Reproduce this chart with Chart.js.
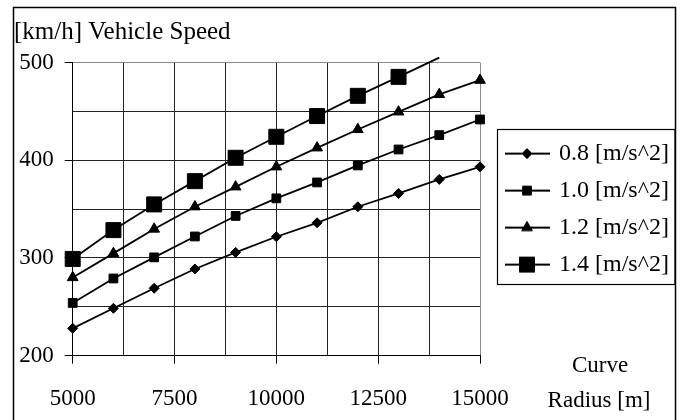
<!DOCTYPE html>
<html>
<head>
<meta charset="utf-8">
<script src="https://cdn.jsdelivr.net/npm/chart.js@4.4.0/dist/chart.umd.min.js"></script>
<style>
html,body{margin:0;padding:0;background:#fff;}
#wrap{width:687px;height:420px;position:relative;}
</style>
</head>
<body>
<div id="wrap"><canvas id="c" width="687" height="420"></canvas></div>
<script>
// ---- data ----
const radii   = [5000, 6000, 7000, 8000, 9000, 10000, 11000, 12000, 13000, 14000, 15000];
const speed08 = [228, 248.5, 269, 288.7, 305.7, 321.7, 336, 352.4, 366, 380.4, 393.3];
const speed10 = [254, 279, 300.6, 322, 343, 361, 377.3, 394.7, 411, 425.7, 441.7];
const speed12 = [280, 304.7, 329.6, 352.4, 372.8, 393.3, 412.7, 431.5, 449.5, 467.3, 481.9];
const speed14 = [299, 328.5, 354.8, 378.6, 402.5, 424, 445.2, 465.9, 485.3, 505];
const seriesNames = ['0.8 [m/s^2]', '1.0 [m/s^2]', '1.2 [m/s^2]', '1.4 [m/s^2]'];
const yAxisTitle = '[km/h] Vehicle Speed';
const xAxisTitle = ['Curve', 'Radius [m]'];
const xMin = 5000, xMax = 15000, xStep = 1250, xLabelStep = 2500;
const yMin = 200, yMax = 500, yStep = 50, yLabelStep = 100;

// ---- styles ----
const FONT = 'Liberation Serif';
const markerStyles = ['rectRot', 'rect', 'triangle', 'rect'];
const markerRadii  = [5, 6.2, 6.2, 10.6];

function toPoints(vals) { return vals.map((v, i) => ({x: radii[i], y: v})); }
const allSeries = [speed08, speed10, speed12, speed14];

function makeIcon(style, r) {
  const cv = document.createElement('canvas');
  cv.width = 60; cv.height = 24;
  const c = cv.getContext('2d');
  c.strokeStyle = '#000'; c.fillStyle = '#000'; c.lineWidth = 2;
  c.beginPath(); c.moveTo(15, 12); c.lineTo(60, 12); c.stroke();
  c.lineWidth = 1;
  Chart.helpers.drawPoint(c, {pointStyle: style, radius: r, rotation: 0, borderWidth: 1}, 37, 12);
  return cv;
}
const legendIcons = markerStyles.map((s, i) => makeIcon(s, markerRadii[i]));

const datasets = allSeries.map((vals, i) => ({
  label: seriesNames[i],
  data: toPoints(vals),
  borderColor: '#000',
  backgroundColor: '#000',
  borderWidth: 1.8,
  pointStyle: markerStyles[i],
  pointRadius: ctx => (ctx.raw && ctx.raw.y > yMax) ? 0 : markerRadii[i],
  pointBorderWidth: 1,
  pointBorderColor: '#000',
  pointBackgroundColor: '#000',
  tension: 0,
  clip: false,
  fill: false
}));

const decor = {
  id: 'decor',
  beforeDraw(chart) {
    const c = chart.ctx;
    c.save(); c.fillStyle = '#fff'; c.fillRect(0, 0, chart.width, chart.height); c.restore();
  },
  afterDraw(chart) {
    const c = chart.ctx, a = chart.chartArea, lg = chart.legend;
    c.save();
    c.strokeStyle = '#000';
    c.lineWidth = 1.5;
    c.strokeRect(13.5, 7.5, 662, 440);
    const hb = lg.legendHitBoxes;
    if (hb && hb.length) {
      const top = Math.round(hb[0].top - 13) + 0.5;
      const last = hb[hb.length - 1];
      const bottom = Math.round(last.top + last.height + 7) + 0.5;
      const left = Math.round(lg.left + 17) + 0.5;
      c.lineWidth = 1.2;
      c.strokeRect(left, top, 675 - left, bottom - top);
    }
    c.fillStyle = '#000';
    c.font = '23px "' + FONT + '"';
    c.textAlign = 'center';
    c.textBaseline = 'alphabetic';
    c.fillText(xAxisTitle[0], 600, a.bottom + 16);
    c.fillText(xAxisTitle[1], 599, a.bottom + 51);
    c.restore();
  }
};

Chart.defaults.font.family = FONT;
Chart.defaults.color = '#000';

new Chart(document.getElementById('c'), {
  type: 'line',
  data: {datasets},
  plugins: [decor],
  options: {
    responsive: false,
    animation: false,
    layout: {padding: {left: 14, top: 8, right: 17, bottom: 0}},
    plugins: {
      tooltip: {enabled: false},
      title: {
        display: true,
        text: yAxisTitle,
        align: 'start',
        color: '#000',
        font: {family: FONT, size: 25, weight: 'normal'},
        padding: {top: 9.5, bottom: 15}
      },
      legend: {
        display: true,
        position: 'right',
        fullSize: false,
        align: 'center',
        maxWidth: 190,
        labels: {
          usePointStyle: true,
          pointStyleWidth: 54,
          padding: 13,
          color: '#000',
          font: {family: FONT, size: 24},
          generateLabels(chart) {
            const items = Chart.defaults.plugins.legend.labels.generateLabels(chart);
            items.forEach((it, i) => { it.pointStyle = legendIcons[i]; });
            return items;
          }
        }
      }
    },
    scales: {
      x: {
        type: 'linear',
        min: xMin, max: xMax,
        afterFit(scale) { scale.height = 64.3; },
        ticks: {
          stepSize: xStep,
          autoSkip: false,
          maxRotation: 0,
          padding: 21,
          color: '#000',
          font: {family: FONT, size: 23},
          callback: v => (v % xLabelStep === 0 ? String(v) : '')
        },
        grid: {
          color: ctx => (ctx.tick && ctx.tick.value === xMax) ? '#8a8a8a' : '#222',
          lineWidth: 1,
          drawTicks: true,
          tickLength: 8,
          tickColor: ctx => (ctx.tick && ctx.tick.value % xLabelStep === 0) ? '#000' : 'rgba(0,0,0,0)'
        },
        border: {display: true, color: '#000', width: 1}
      },
      y: {
        type: 'linear',
        min: yMin, max: yMax,
        afterFit(scale) { scale.width = 58.7; },
        ticks: {
          stepSize: yStep,
          padding: 11,
          color: '#000',
          font: {family: FONT, size: 23},
          callback: v => (v % yLabelStep === 0 ? String(v) : '')
        },
        grid: {
          color: ctx => (ctx.tick && ctx.tick.value === yMax) ? '#8a8a8a' : '#222',
          lineWidth: 1,
          drawTicks: true,
          tickLength: 8,
          tickColor: ctx => (ctx.tick && ctx.tick.value % yLabelStep === 0) ? '#000' : 'rgba(0,0,0,0)'
        },
        border: {display: true, color: '#000', width: 1}
      }
    }
  }
});
</script>
</body>
</html>
